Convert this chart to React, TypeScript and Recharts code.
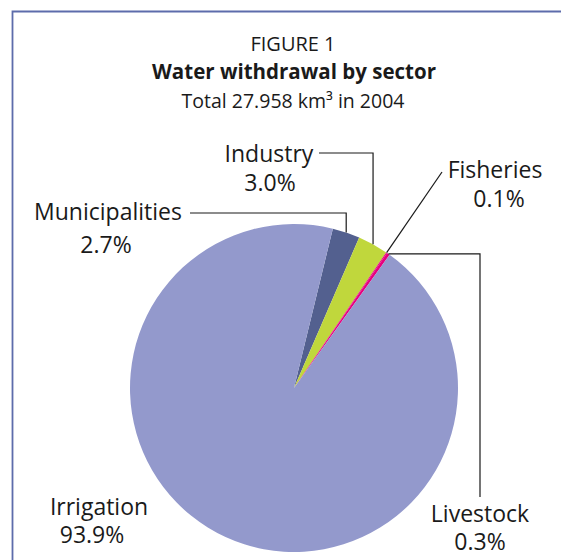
import { Cell, Pie, PieChart } from 'recharts'

// sector shares of total withdrawal, %
const sectors = ['Municipalities', 'Industry', 'Fisheries', 'Livestock', 'Irrigation']
const shares = [2.7, 3.0, 0.1, 0.3, 93.9]
const colors = ['#53608f', '#c0d73c', '#e6007e', '#e6007e', '#9399cc']

const titleLines = ['FIGURE 1', 'Water withdrawal by sector']
const totalLabel = 'Total 27.958 km³ in 2004'

const FONT = '"Open Sans", "Noto Sans", sans-serif'
const RAD = Math.PI / 180

type LabelLayout = {
  name: [number, number]
  pct: [number, number]
  path: 'up-left' | 'straight' | 'right-down' | 'none'
  to: [number, number]
}

const layouts: Record<string, LabelLayout> = {
  Municipalities: { name: [108, 220], pct: [106, 253], path: 'up-left', to: [190, 213] },
  Industry: { name: [269, 162], pct: [270, 191], path: 'up-left', to: [319, 153] },
  Fisheries: { name: [495, 178], pct: [499, 207], path: 'straight', to: [442, 172] },
  Livestock: { name: [480, 522], pct: [480, 550], path: 'right-down', to: [480, 497] },
  Irrigation: { name: [99, 515], pct: [92, 543], path: 'none', to: [0, 0] },
}

const data = sectors.map((name, i) => ({ name, value: shares[i] }))

function renderLabel(props: any) {
  const { cx, cy, midAngle, outerRadius, name, value } = props
  const l = layouts[name]
  if (!l) return null
  const sx = cx + outerRadius * Math.cos(-midAngle * RAD)
  const sy = cy + outerRadius * Math.sin(-midAngle * RAD)
  let points = ''
  if (l.path === 'up-left') points = `${sx},${sy} ${sx},${l.to[1]} ${l.to[0]},${l.to[1]}`
  if (l.path === 'straight') points = `${sx},${sy} ${l.to[0]},${l.to[1]}`
  if (l.path === 'right-down') points = `${sx},${sy} ${l.to[0]},${sy} ${l.to[0]},${l.to[1]}`
  return (
    <g>
      {points && <polyline points={points} fill="none" stroke="#1a1a1a" strokeWidth={1.2} />}
      <text x={l.name[0]} y={l.name[1]} textAnchor="middle" fontSize={23} fill="#1a1a1a" fontFamily={FONT}>
        {name}
      </text>
      <text x={l.pct[0]} y={l.pct[1]} textAnchor="middle" fontSize={23} fill="#1a1a1a" fontFamily={FONT}>
        {`${Number(value).toFixed(1)}%`}
      </text>
    </g>
  )
}

export default function App() {
  return (
    <div style={{ position: 'absolute', left: 0, top: 0, width: 561, height: 560, background: '#fff' }}>
      <svg width={561} height={560} style={{ position: 'absolute', left: 0, top: 0 }}>
        <path d="M12.5,570 L12.5,11.5 L570,11.5" fill="none" stroke="#5d6cab" strokeWidth={1.8} />
        <text x={293} y={51} textAnchor="middle" fontSize={20} fill="#1a1a1a" fontFamily={FONT}>
          {titleLines[0]}
        </text>
        <text x={294} y={79} textAnchor="middle" fontSize={20.5} fontWeight="bold" fill="#1a1a1a" fontFamily={FONT}>
          {titleLines[1]}
        </text>
        <text x={293} y={108} textAnchor="middle" fontSize={19.5} fill="#1a1a1a" fontFamily={FONT}>
          {totalLabel}
        </text>
      </svg>
      <div style={{ position: 'absolute', left: 0, top: 0 }}>
        <PieChart width={561} height={560} margin={{ top: 0, right: 0, bottom: 0, left: 0 }}>
          <Pie
            data={data}
            dataKey="value"
            nameKey="name"
            cx={294}
            cy={388}
            outerRadius={164}
            startAngle={76.3}
            endAngle={-283.7}
            stroke="none"
            label={renderLabel}
            labelLine={false}
            isAnimationActive={false}
          >
            {data.map((d, i) => (
              <Cell key={d.name} fill={colors[i]} />
            ))}
          </Pie>
        </PieChart>
      </div>
    </div>
  )
}
